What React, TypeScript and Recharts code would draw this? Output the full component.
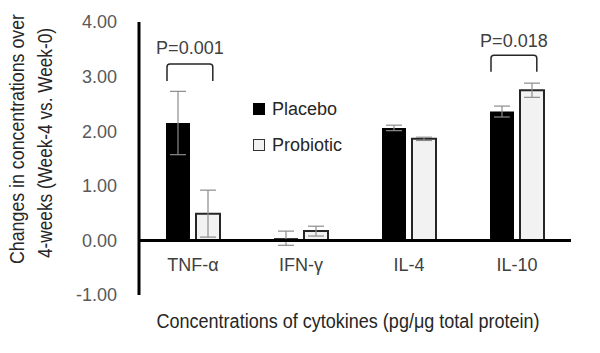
import React from "react";
import {
  BarChart,
  Bar,
  XAxis,
  YAxis,
  ErrorBar,
  ReferenceLine,
  LabelList,
} from "recharts";

const categories = ["TNF-α", "IFN-γ", "IL-4", "IL-10"];
const placebo = [2.15, 0.04, 2.06, 2.36];
const placeboErr = [0.58, 0.13, 0.05, 0.1];
const probiotic = [0.49, 0.17, 1.86, 2.75];
const probioticErr = [0.43, 0.09, 0.03, 0.13];
const bracketTop = [3.23, null, null, 3.39];
const bracketLeg = [2.92, null, null, 3.09];
const pLabelPos = [3.52, null, null, 3.65];
const pLabels = ["P=0.001", "", "", "P=0.018"];
const yTicks = [-1, 0, 1, 2, 3, 4];
const seriesNames = ["Placebo", "Probiotic"];

const data = categories.map((c, i) => ({
  name: c,
  placebo: placebo[i],
  placeboErr: placeboErr[i],
  probiotic: probiotic[i],
  probioticErr: probioticErr[i],
}));

const NARROW = "'Liberation Sans', Arial, sans-serif";
const SANS = "'Liberation Sans', Arial, sans-serif";

const BracketLabel = (props: any) => {
  const vb = props.viewBox || props;
  const x = Number(props.x ?? vb.x);
  const y = Number(props.y ?? vb.y);
  const w = Number(props.width ?? vb.width);
  const h = Number(props.height ?? vb.height);
  const i = props.index;
  if (i == null || bracketTop[i] == null) return null;
  const v = placebo[i];
  const zeroPx = y + h;
  const ppu = h / v;
  const toPx = (val: number) => zeroPx - val * ppu;
  const left = x + 1;
  const right = x + w * 1.95;
  const top = toPx(bracketTop[i] as number);
  const leg = toPx(bracketLeg[i] as number);
  const ty = toPx(pLabelPos[i] as number);
  const r = 3;
  return (
    <g>
      <path
        d={`M${left},${leg} L${left},${top + r} Q${left},${top} ${left + r},${top} L${right - r},${top} Q${right},${top} ${right},${top + r} L${right},${leg}`}
        fill="none"
        stroke="#262626"
        strokeWidth={1.5}
      />
      <text
        x={(left + right) / 2}
        y={ty}
        textAnchor="middle"
        dominantBaseline="central"
        fontFamily={SANS}
        fontSize={18}
        fill="#404040"
      >
        {pLabels[i]}
      </text>
    </g>
  );
};

const CatTick = (props: any) => {
  const { x, y, payload } = props;
  return (
    <text
      x={x}
      y={y - 30}
      textAnchor="middle"
      dominantBaseline="central"
      fontFamily={SANS}
      fontSize={18}
      fill="#404040"
    >
      {payload.value}
    </text>
  );
};

const XTitle = (props: any) => {
  const vb = props.viewBox || {};
  const cx = vb.x + vb.width / 2 - 7;
  return (
    <text
      x={cx}
      y={321}
      textAnchor="middle"
      dominantBaseline="central"
      fontFamily={NARROW}
      fontSize={20}
      fill="#262626"
      textLength={383}
      lengthAdjust="spacingAndGlyphs"
    >
      Concentrations of cytokines (pg/μg total protein)
    </text>
  );
};

const YTitle = () => (
  <g transform="translate(31,139) rotate(-90)">
    <text
      x={0}
      y={-14}
      textAnchor="middle"
      dominantBaseline="central"
      fontFamily={NARROW}
      fontSize={20}
      fill="#262626"
      textLength={250}
      lengthAdjust="spacingAndGlyphs"
    >
      Changes in concentrations over
    </text>
    <text
      x={-4}
      y={14}
      textAnchor="middle"
      dominantBaseline="central"
      fontFamily={NARROW}
      fontSize={20}
      fill="#262626"
      textLength={230}
      lengthAdjust="spacingAndGlyphs"
    >
      4-weeks (Week-4 vs. Week-0)
    </text>
  </g>
);

const LegendOverlay = () => (
  <div
    style={{
      position: "absolute",
      left: 253,
      top: 97,
      fontFamily: SANS,
      fontSize: 18,
      color: "#262626",
      lineHeight: "24px",
    }}
  >
    <div style={{ display: "flex", alignItems: "center", height: 24, marginBottom: 12 }}>
      <span
        style={{ display: "inline-block", width: 12, height: 12, background: "#000", marginRight: 7 }}
      />
      {seriesNames[0]}
    </div>
    <div style={{ display: "flex", alignItems: "center", height: 24 }}>
      <span
        style={{
          display: "inline-block",
          width: 10,
          height: 10,
          background: "#f2f2f2",
          border: "1px solid #333",
          marginRight: 7,
        }}
      />
      {seriesNames[1]}
    </div>
  </div>
);

export default function App() {
  return (
    <div style={{ position: "absolute", left: 0, top: 0, width: 600, height: 353, background: "#fff" }}>
      <BarChart
        width={600}
        height={353}
        data={data}
        margin={{ top: 22, right: 29, bottom: 28, left: 0 }}
        barSize={24}
        barGap={6}
      >
        <XAxis
          dataKey="name"
          axisLine={false}
          tickLine={false}
          tickSize={0}
          tickMargin={0}
          height={30}
          tick={<CatTick />}
          interval={0}
          label={<XTitle />}
        />
        <YAxis
          width={139}
          domain={[-1, 4]}
          ticks={yTicks}
          interval={0}
          tickFormatter={(v: number) => v.toFixed(2)}
          axisLine={{ stroke: "#000", strokeWidth: 3 }}
          tickLine={false}
          tickSize={0}
          tickMargin={22}
          tick={{ fill: "#595959", fontSize: 18, fontFamily: SANS }}
          label={<YTitle />}
        />
        <Bar dataKey="placebo" fill="#000" isAnimationActive={false}>
          <ErrorBar dataKey="placeboErr" stroke="#8c8c8c" strokeWidth={1.2} width={8} />
          <LabelList dataKey="placebo" content={<BracketLabel />} />
        </Bar>
        <Bar
          dataKey="probiotic"
          fill="#f2f2f2"
          stroke="#262626"
          strokeWidth={2}
          isAnimationActive={false}
        >
          <ErrorBar dataKey="probioticErr" stroke="#8c8c8c" strokeWidth={1.2} width={8} />
        </Bar>
        <ReferenceLine y={0} stroke="#000" strokeWidth={3} />
      </BarChart>
      <LegendOverlay />
    </div>
  );
}
